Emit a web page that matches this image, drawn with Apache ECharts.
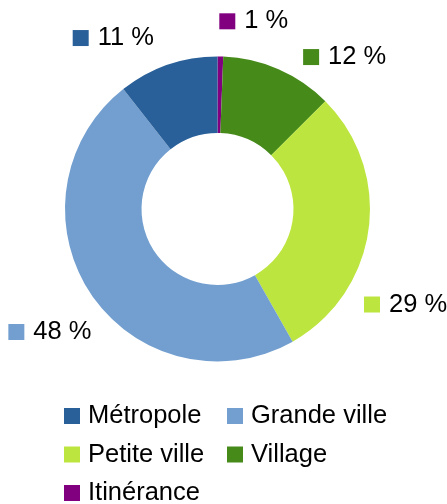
<!DOCTYPE html>
<html>
<head>
<meta charset="utf-8">
<script src="https://cdn.jsdelivr.net/npm/echarts@6/dist/echarts.min.js"></script>
<style>
html,body{margin:0;padding:0;background:#fff;}
#c{width:447px;height:504px;}
</style>
</head>
<body>
<div id="c"></div>
<script>
// Data (clockwise from 12 o'clock)
const categories = ['Itinérance', 'Village', 'Petite ville', 'Grande ville', 'Métropole'];
const values = [0.6, 11.9, 29.3, 47.6, 10.6];
const colors = ['#800080', '#468a1a', '#bde53f', '#729fcf', '#2a6099'];
const legendColumn1 = ['Métropole', 'Petite ville', 'Itinérance'];
const legendColumn2 = ['Grande ville', 'Village'];

// Layout (styles)
const cx = 217.5, cy = 209, rOuter = 152.5, rInner = 76;
const labelAnchors = [
  {angle: 0.55, dist: 187.7, align: 'left'},
  {angle: 29.4, dist: 174.4, align: 'left'},
  {angle: 123.1, dist: 174.9, align: 'left'},
  {angle: 225.7, dist: 176.1, align: 'right'},
  {angle: 339.6, dist: 182.4, align: 'right'}
];
const FONT = '"Liberation Sans", Arial, sans-serif';
const FS = 25.5;

const rich = { t: {fontSize: FS, fontFamily: FONT, color: '#000', padding: [0, 0, 0, 9]} };
colors.forEach((c, i) => { rich['m' + i] = {width: 16, height: 16, backgroundColor: c}; });

const chart = echarts.init(document.getElementById('c'), null, {renderer: 'canvas'});
const legendBase = {
  orient: 'vertical', icon: 'rect', itemWidth: 16, itemHeight: 16, itemGap: 12.5,
  padding: 0, height: 140,
  textStyle: {fontSize: FS, fontFamily: FONT, color: '#000', lineHeight: 25, padding: [0, 0, 0, 3]},
  selectedMode: false
};
chart.setOption({
  animation: false,
  color: colors,
  legend: [
    Object.assign({}, legendBase, {data: legendColumn1, left: 64, top: 403}),
    Object.assign({}, legendBase, {data: legendColumn2, left: 227, top: 403})
  ],
  series: [{
    type: 'pie',
    center: [cx, cy],
    radius: [rInner, rOuter],
    startAngle: 90,
    clockwise: true,
    avoidLabelOverlap: false,
    data: categories.map((n, i) => ({name: n, value: values[i]})),
    label: {
      show: true,
      position: 'outside',
      formatter: p => `{m${p.dataIndex}|}{t|${Math.round(p.percent)} %}`,
      rich: rich
    },
    labelLine: {show: false},
    labelLayout: function (p) {
      const a = labelAnchors[p.dataIndex];
      const rad = a.angle * Math.PI / 180;
      return {x: cx + a.dist * Math.sin(rad), y: cy - a.dist * Math.cos(rad), align: a.align, verticalAlign: 'middle'};
    },
    emphasis: {disabled: true}
  }]
});
</script>
</body>
</html>
